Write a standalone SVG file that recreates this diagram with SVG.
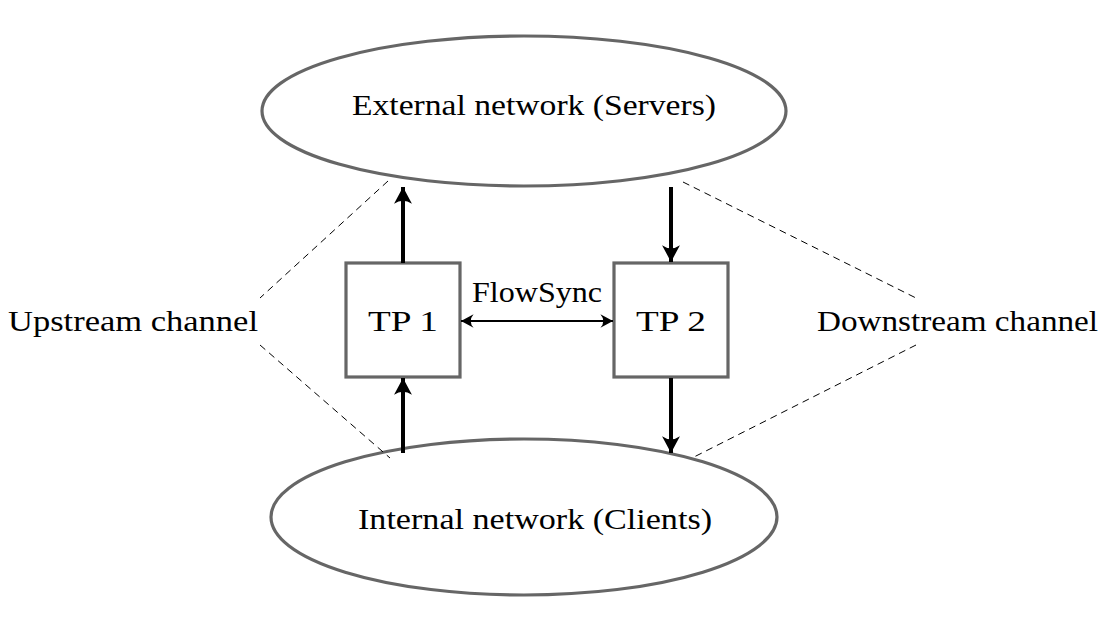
<svg xmlns="http://www.w3.org/2000/svg" width="1106" height="626" viewBox="0 0 1106 626">
<style>
.net{fill:none;stroke:#666;stroke-width:3.2}
.box{fill:#fff;stroke:#666;stroke-width:3.2}
.t{font-family:"Liberation Serif","DejaVu Serif",serif;font-size:29px;fill:#000}
.thick{stroke:#000;stroke-width:4;fill:none}
.thin{stroke:#000;stroke-width:2.2;fill:none}
.dash{stroke:#000;stroke-width:1;fill:none;stroke-dasharray:7 5}
</style>
<defs>
<marker id="ah" markerUnits="userSpaceOnUse" markerWidth="20" markerHeight="20" viewBox="-17 -9 19 18" refX="0" refY="0" orient="auto">
<path d="M0,0 L-16,-8.5 Q-10,0 -16,8.5 Z" fill="#000"/>
</marker>
<marker id="ahs" markerUnits="userSpaceOnUse" markerWidth="16" markerHeight="16" viewBox="-12 -7 14 14" refX="0" refY="0" orient="auto-start-reverse">
<path d="M0,0 L-11,-6 Q-6,0 -11,6 Z" fill="#000"/>
</marker>
</defs>
<g id="external">
<ellipse class="net" cx="524" cy="111" rx="262" ry="75"/>
<text class="t" x="534" y="115" text-anchor="middle" textLength="364" lengthAdjust="spacingAndGlyphs">External network (Servers)</text>
</g>
<g id="internal">
<ellipse class="net" cx="524" cy="517" rx="253" ry="78"/>
<text class="t" x="535" y="529" text-anchor="middle" textLength="354" lengthAdjust="spacingAndGlyphs">Internal network (Clients)</text>
</g>
<g id="tp1">
<rect class="box" x="346" y="263" width="114" height="114"/>
<text class="t" x="403" y="331" text-anchor="middle" style="font-size:30px" textLength="70" lengthAdjust="spacingAndGlyphs">TP 1</text>
</g>
<g id="tp2">
<rect class="box" x="614" y="263" width="114" height="114"/>
<text class="t" x="671" y="331" text-anchor="middle" style="font-size:30px" textLength="70" lengthAdjust="spacingAndGlyphs">TP 2</text>
</g>
<g id="upstream">
<text class="t" x="8" y="331" textLength="250" lengthAdjust="spacingAndGlyphs">Upstream channel</text>
</g>
<g id="downstream">
<text class="t" x="817" y="331" textLength="281" lengthAdjust="spacingAndGlyphs">Downstream channel</text>
</g>
<g id="connectors">
<line class="thick" x1="403" y1="263" x2="403" y2="187" marker-end="url(#ah)"/>
<line class="thick" x1="403" y1="453" x2="403" y2="378" marker-end="url(#ah)"/>
<line class="thick" x1="671" y1="187" x2="671" y2="262" marker-end="url(#ah)"/>
<line class="thick" x1="671" y1="378" x2="671" y2="453" marker-end="url(#ah)"/>
<line class="thin" x1="461" y1="321" x2="613" y2="321" marker-start="url(#ahs)" marker-end="url(#ahs)"/>
<text class="t" x="537" y="302" text-anchor="middle" textLength="130" lengthAdjust="spacingAndGlyphs">FlowSync</text>
<polyline class="dash" points="388,181 260,298"/>
<polyline class="dash" points="260,345 390,458"/>
<polyline class="dash" points="683,182 916,298"/>
<polyline class="dash" points="916,345 692,458"/>
</g>
</svg>
